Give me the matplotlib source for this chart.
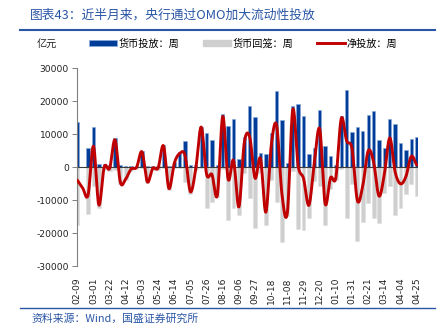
import numpy as np
import pandas as pd
import matplotlib
matplotlib.use('Agg')
import matplotlib.pyplot as plt
from matplotlib.lines import Line2D
from matplotlib.patches import Patch

CJK = ['Noto Sans CJK SC', 'DejaVu Sans']
plt.rcParams['font.family'] = ['DejaVu Sans', 'Noto Sans CJK SC']

# weekly categories (02-09 .. next year 04-25)
weeks = list(pd.date_range('2024-02-09', periods=64, freq='7D').strftime('%m-%d'))

# 货币投放：周 (亿元); NaN = no data that week
injection = [13600, np.nan, 5700, 12100, 1000, 900, 700, 9000, 600, 400,
             500, 500, 4900, 500, 500, 500, 6800, 500, 1500, 4500,
             8000, 600, 600, 12300, 10300, 8300, 600, 16000, 12400, 14500,
             2500, 9300, 18600, 15200, 4400, 3900, 10400, 23100, 14400, 1200,
             18500, 19100, 15500, 4000, 5800, 17400, 6400, 3400, 600, 15400,
             23400, 10600, 12100, 11000, 15900, 17100, 8300, 5800, 14600, 13100,
             7300, 5300, 8500, 9300]
# 货币回笼：周
withdrawal = [-17500, np.nan, -14100, -5700, -12400, -800, -1000, -700, -5200, -3900,
              -1000, -500, -200, -4900, -800, -700, -300, -6900, -300, -300,
              -4400, -8000, -900, -100, -12400, -10500, -9000, -600, -16000, -12400,
              -14500, -1800, -9400, -18500, -1700, -17500, -3800, -10400, -22700, -14800,
              -1000, -18600, -18900, -15500, -4300, -5800, -17400, -6600, -3700, -600,
              -15400, -5000, -22200, -16500, -10900, -15500, -17000, -7900, -5700, -14500,
              -12300, -8100, -5200, -8600]
# 净投放：周
net = [-3900, -6300, -8400, 6400, -11400, 100, -300, 8300, -4600, -3500,
       -500, 0, 4700, -4400, -300, -200, 6500, -6400, 1200, 4200,
       3600, -7400, -300, 12200, -2100, -2200, -8400, 15400, -3600, 2100,
       -12000, 7500, 9200, -3300, 2700, -13600, 6600, 12700, -8300, -13600,
       17500, 500, -3400, -11500, 1500, 11600, -11000, -3200, -3100, 14800,
       8000, 5600, -10100, -5500, 5000, 1600, -8700, -2100, 8900, -1400,
       -5000, -2800, 3300, 700]

tick_labels = ['02-09', '03-01', '03-22', '04-12', '05-03', '05-24', '06-14', '07-05',
               '07-26', '08-16', '09-06', '09-27', '10-18', '11-08', '11-29', '12-20',
               '01-10', '01-31', '02-21', '03-14', '04-04', '04-25']
y_ticks = [30000, 20000, 10000, 0, -10000, -20000, -30000]

legend_labels = ['货币投放：周', '货币回笼：周', '净投放：周']
title = '图表43：近半月来，央行通过OMO加大流动性投放'
source = '资料来源：Wind，国盛证券研究所'
unit = '亿元'

BLUE = '#003d99'
BLUE_EDGE = '#8aa9d8'
GRAY = '#cfcfcf'
RED = '#c00000'
TITLE_BLUE = '#2a56a6'


def catmull_rom(xs, ys, n=16):
    xs = np.asarray(xs, float)
    ys = np.asarray(ys, float)
    px = np.concatenate([[2 * xs[0] - xs[1]], xs, [2 * xs[-1] - xs[-2]]])
    py = np.concatenate([[2 * ys[0] - ys[1]], ys, [2 * ys[-1] - ys[-2]]])
    ox, oy = [], []
    t = np.linspace(0, 1, n, endpoint=False)
    for i in range(1, len(px) - 2):
        for arr, out in ((px, ox), (py, oy)):
            p0, p1, p2, p3 = arr[i - 1], arr[i], arr[i + 1], arr[i + 2]
            out.extend(0.5 * ((2 * p1) + (-p0 + p2) * t +
                              (2 * p0 - 5 * p1 + 4 * p2 - p3) * t ** 2 +
                              (-p0 + 3 * p1 - 3 * p2 + p3) * t ** 3))
    ox.append(xs[-1])
    oy.append(ys[-1])
    return np.array(ox), np.array(oy)


fig = plt.figure(figsize=(4.47, 3.29), dpi=100)
ax = fig.add_axes([0.1716, 0.1906, 0.7642, 0.6018])

x = np.arange(len(weeks))
ax.bar(x, withdrawal, width=0.72, color=GRAY, edgecolor='#e0e0e0', linewidth=0.4, zorder=1)
ax.bar(x, injection, width=0.62, color=BLUE, edgecolor=BLUE_EDGE, linewidth=0.5, zorder=2)
ax.axhline(0, color='#3c3c3c', lw=0.8, zorder=2.5)
sx, sy = catmull_rom(x, net)
ax.plot(sx, sy, color=RED, lw=2.1, zorder=3, solid_capstyle='round', solid_joinstyle='round')

ax.set_xlim(-0.11, 63.3)
ax.set_ylim(-30000, 30000)
ax.set_yticks(y_ticks)
ax.set_yticklabels([str(v) for v in y_ticks], fontsize=6.6, color='#222222')
tick_pos = [3 * i for i in range(len(tick_labels))]
ax.set_xticks(tick_pos)
ax.set_xticklabels(tick_labels, rotation=90, fontsize=6.6, color='#222222')
ax.tick_params(axis='x', length=0, pad=8)
ax.tick_params(axis='y', length=3.5, width=0.7, color='#808080', pad=2)
for s in ['top', 'right', 'bottom']:
    ax.spines[s].set_visible(False)
ax.spines['left'].set_color('#808080')
ax.spines['left'].set_linewidth(0.8)

# legend
handles = [Patch(facecolor=BLUE, edgecolor=BLUE_EDGE, linewidth=0.5),
           Patch(facecolor=GRAY, edgecolor=GRAY),
           Line2D([0], [0], color=RED, lw=2.1)]
fig.legend(handles, legend_labels, loc='center left', bbox_to_anchor=(0.19, 0.868),
           ncol=3, frameon=False, handlelength=2.8, handleheight=0.6,
           handletextpad=0.15, columnspacing=2.3, borderaxespad=0,
           prop={'family': CJK, 'size': 7.3})
fig.text(37 / 447, 1 - 43.5 / 329, unit, fontsize=7.3, family=CJK, va='center', color='#222222')

# title, rules and source
fig.text(30 / 447, 1 - 15 / 329, title, fontsize=9.2, family=CJK, va='center', color=TITLE_BLUE)
fig.add_artist(Line2D([20 / 447, 435 / 447], [1 - 30 / 329] * 2, color=TITLE_BLUE, lw=1.5))
fig.add_artist(Line2D([20 / 447, 435 / 447], [1 - 308 / 329] * 2, color=TITLE_BLUE, lw=1.0))
fig.text(31 / 447, 1 - 318.5 / 329, source, fontsize=7.8, family=CJK, va='center', color=TITLE_BLUE)

fig.savefig('out.png', dpi=100)
